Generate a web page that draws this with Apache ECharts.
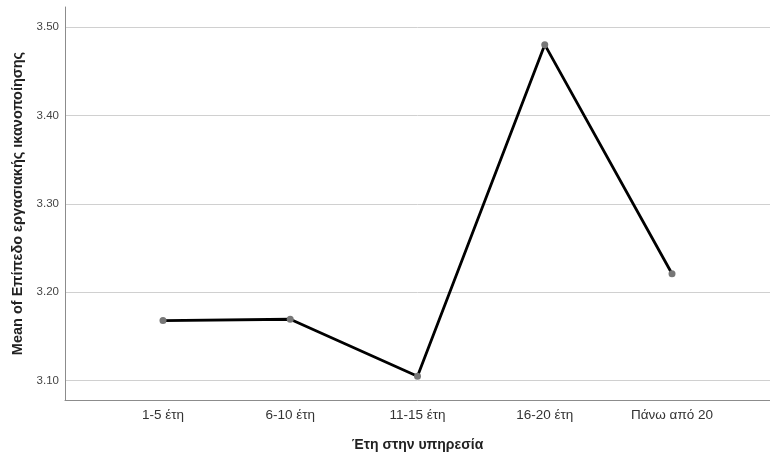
<!DOCTYPE html>
<html>
<head>
<meta charset="utf-8">
<script src="https://cdn.jsdelivr.net/npm/echarts@6/dist/echarts.min.js"></script>
<style>html,body{margin:0;padding:0;background:#fff;}#c{width:770px;height:454px;}</style>
</head>
<body>
<div id="c"></div>
<script>
const categories = ['1-5 έτη', '6-10 έτη', '11-15 έτη', '16-20 έτη', 'Πάνω από 20'];
const meanValues = [3.168, 3.1695, 3.105, 3.480, 3.221];
const yTicks = [3.10, 3.20, 3.30, 3.40, 3.50];
const xName = 'Έτη στην υπηρεσία';
const yName = 'Mean of Επίπεδο εργασιακής ικανοποίησης';

const chart = echarts.init(document.getElementById('c'), null, {renderer: 'canvas'});
const idx = categories.map((_, i) => i);
chart.setOption({
  animation: false,
  backgroundColor: '#fff',
  grid: {left: 65, right: 0, top: 7, bottom: 54, containLabel: false, outerBoundsMode: 'none'},
  xAxis: {
    type: 'value', min: -0.77, max: categories.length - 1 + 0.77,
    name: xName, nameLocation: 'middle', nameGap: 38,
    nameTextStyle: {fontFamily: 'Liberation Sans', fontSize: 14, fontWeight: 'bold', color: '#222'},
    axisLine: {show: true, onZero: false, lineStyle: {color: '#8c8c8c', width: 1}},
    axisTick: {show: false, customValues: idx},
    splitLine: {show: false},
    axisLabel: {customValues: idx, margin: 8, fontFamily: 'Liberation Sans', fontSize: 13.5, color: '#333',
      formatter: v => categories[Math.round(v)]}
  },
  yAxis: {
    type: 'value', min: 3.0782, max: 3.5226,
    name: yName, nameLocation: 'middle', nameGap: 40, nameRotate: 90,
    nameTextStyle: {fontFamily: 'Liberation Sans', fontSize: 14.5, fontWeight: 'bold', color: '#222'},
    axisLine: {show: true, onZero: false, lineStyle: {color: '#8c8c8c', width: 1}},
    axisTick: {show: false, customValues: yTicks},
    splitLine: {show: true, lineStyle: {color: '#d0d0d0', width: 1}},
    axisLabel: {customValues: yTicks, margin: 6, fontFamily: 'Liberation Sans', fontSize: 11.5, color: '#444',
      formatter: v => v.toFixed(2)}
  },
  series: [{
    type: 'line',
    data: meanValues.map((v, i) => [i, v]),
    symbol: 'circle', symbolSize: 7,
    lineStyle: {color: '#000', width: 2.8},
    itemStyle: {color: '#777'},
    z: 3
  }]
});
</script>
</body>
</html>
